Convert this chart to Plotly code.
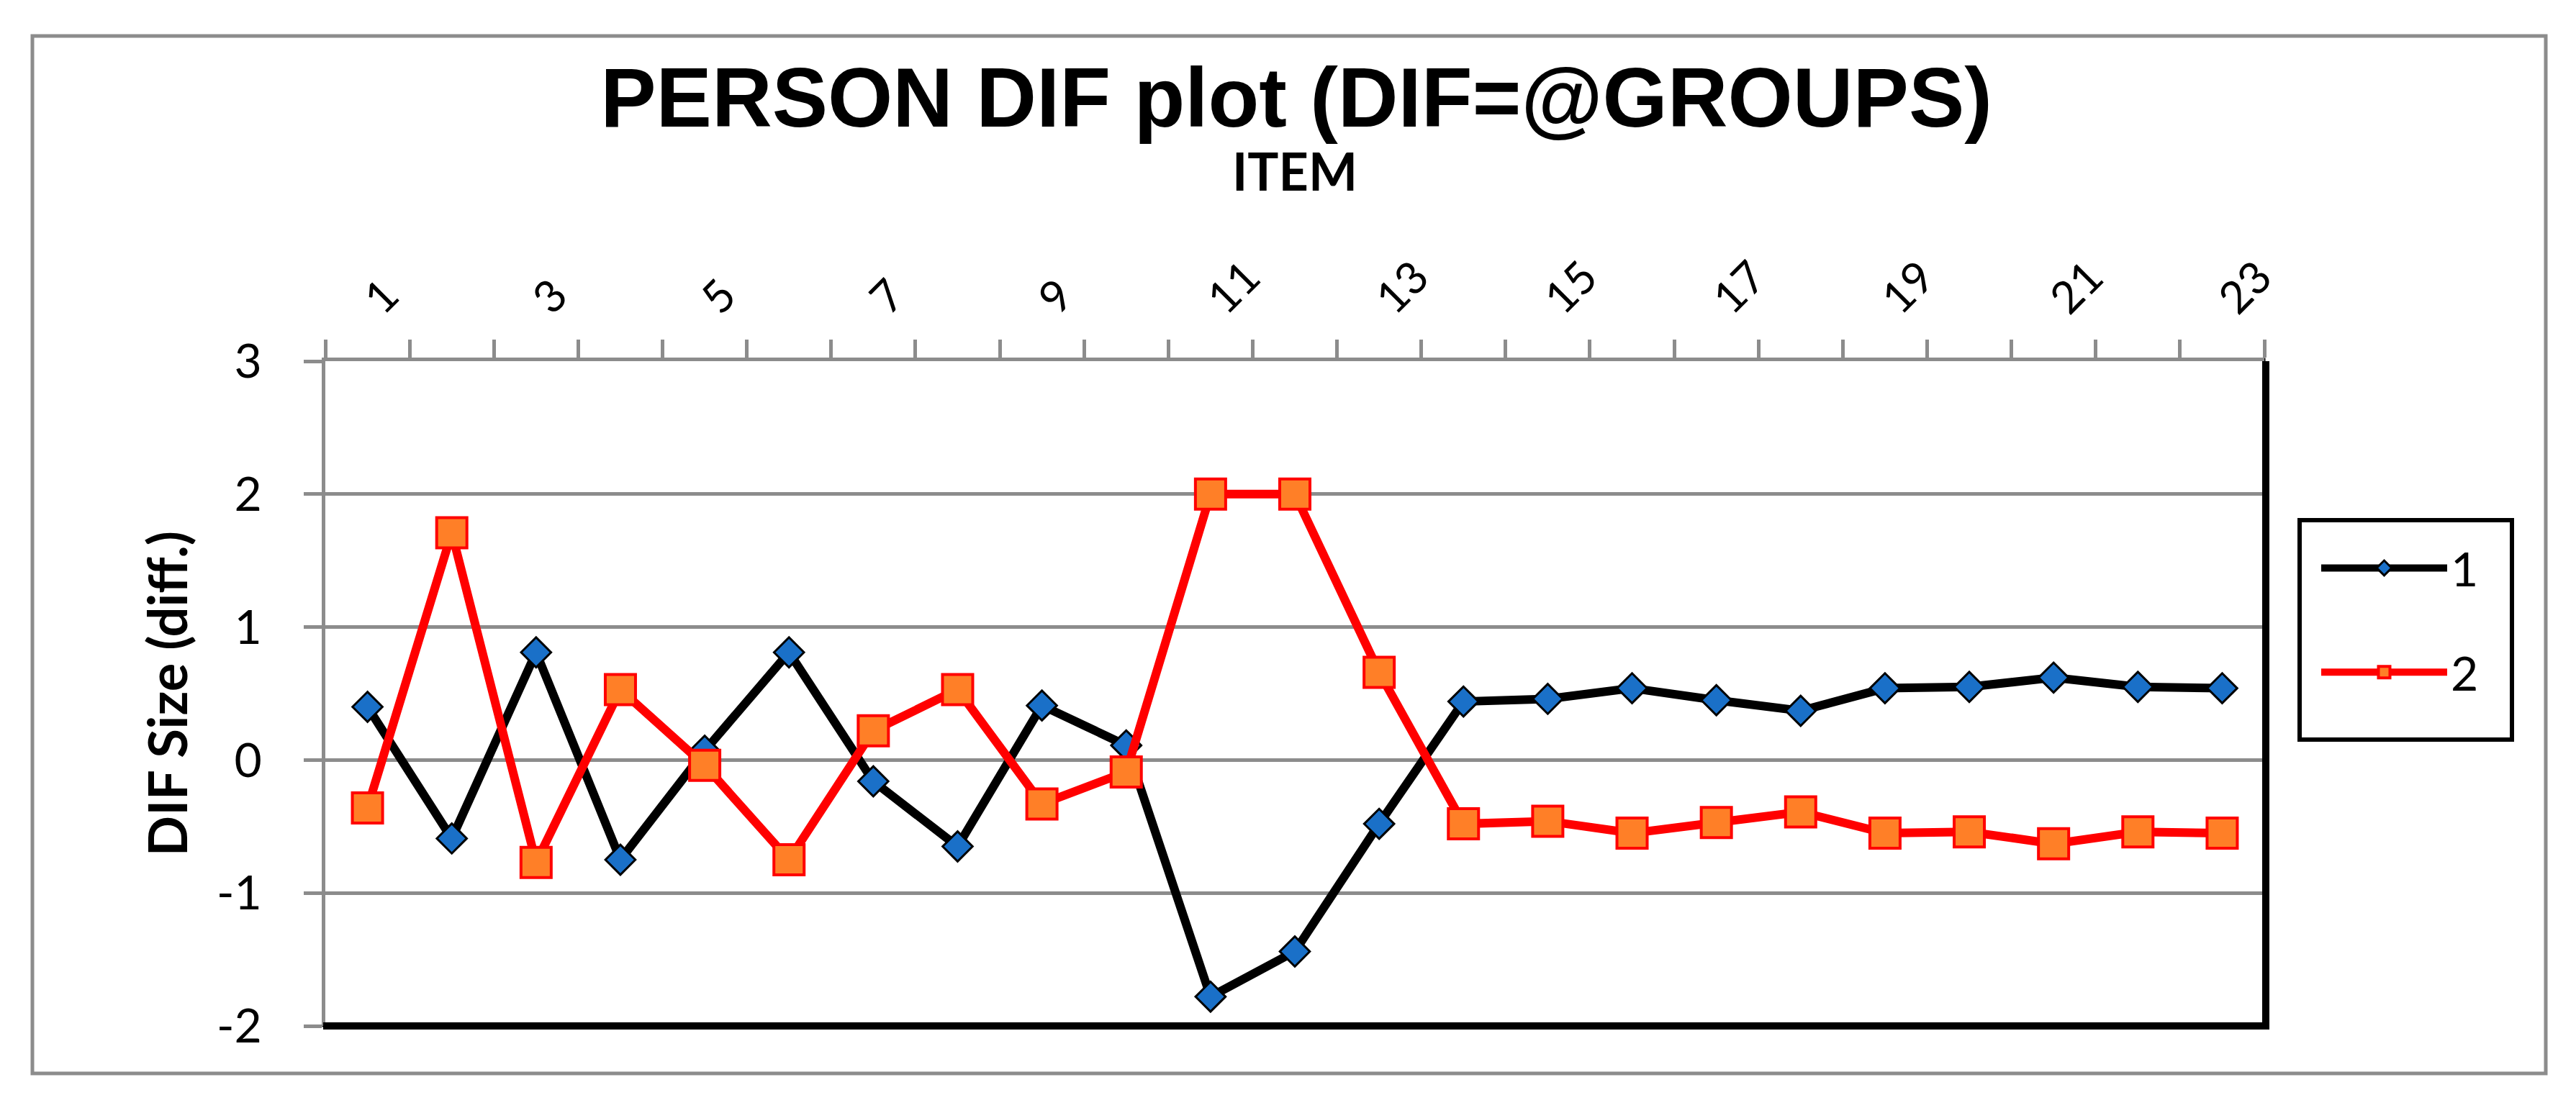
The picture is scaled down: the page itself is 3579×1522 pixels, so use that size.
import plotly.graph_objects as go

# data
items = list(range(1, 24))
group1 = [0.40, -0.59, 0.81, -0.75, 0.07, 0.81, -0.16, -0.65, 0.41, 0.11,
          -1.78, -1.44, -0.48, 0.44, 0.46, 0.54, 0.45, 0.37, 0.54, 0.55,
          0.62, 0.55, 0.54]
group2 = [-0.36, 1.71, -0.77, 0.53, -0.04, -0.75, 0.22, 0.53, -0.33, -0.09,
          2.00, 2.00, 0.66, -0.48, -0.46, -0.55, -0.47, -0.39, -0.55, -0.54,
          -0.63, -0.54, -0.55]
x_tick_vals = list(range(1, 24, 2))
x_tick_text = [str(v) for v in x_tick_vals]
x_boundaries = [i + 0.5 for i in range(0, 24)]
y_tick_vals = [-2, -1, 0, 1, 2, 3]
y_tick_text = ['-2', '-1', '0', '1', '2', '3']

# page / plot area in pixels
W, H = 3579, 1522
L, R, T, B = 444, 441, 494, 104
PW, PH = W - L - R, H - T - B

def px_x(p):
    return (p - L) / PW

def px_y(p):
    return (H - B - p) / PH

GRAY = '#8c8c8c'
BLUE = '#1a70c8'
ORANGE = '#ff7f27'

fig = go.Figure()
fig.add_trace(go.Scatter(
    x=items, y=group1, name='1', mode='lines+markers', legendgroup='1',
    line=dict(color='black', width=12),
    marker=dict(symbol='diamond', size=32, color=BLUE,
                line=dict(color='black', width=3)),
))
fig.add_trace(go.Scatter(
    x=items, y=group2, name='2', mode='lines+markers', legendgroup='2',
    line=dict(color='#ff0000', width=12),
    marker=dict(symbol='square', size=42, color=ORANGE,
                line=dict(color='#ff0000', width=4)),
))

fig.update_layout(
    width=W, height=H,
    margin=dict(l=L, r=R, t=T, b=B, autoexpand=False),
    plot_bgcolor='white',
    paper_bgcolor='white',
    title=dict(text='<b>PERSON DIF plot (DIF=@GROUPS)</b>',
               font=dict(family='Liberation Sans', size=116, color='black'),
               x=0.501, xanchor='center', y=0.916, yanchor='middle'),
    font=dict(family='Lato', color='black'),
    legend=dict(x=px_x(3212), y=px_y(732), xanchor='left', yanchor='top',
                borderwidth=0, bgcolor='rgba(0,0,0,0)',
                font=dict(family='Lato', size=66),
                traceorder='grouped', tracegroupgap=56, itemwidth=175),
    showlegend=True,
)

fig.update_xaxes(
    range=[0.5, 23.5], side='top', showgrid=False, zeroline=False,
    tickmode='array', tickvals=x_tick_vals, ticktext=x_tick_text,
    ticks='outside', ticklen=23, tickcolor='rgba(0,0,0,0)', tickangle=-45,
    tickfont=dict(family='Lato', size=62),
    minor=dict(tickmode='array', tickvals=x_boundaries, ticks='outside',
               ticklen=25, tickwidth=5, tickcolor=GRAY, showgrid=False),
    showline=True, linecolor=GRAY, linewidth=5,
    title=dict(text='<b>ITEM</b>', font=dict(family='Lato', size=72),
               standoff=58),
    automargin=False,
)
fig.update_yaxes(
    range=[-2, 3], tickmode='array', tickvals=y_tick_vals, ticktext=y_tick_text,
    showgrid=True, gridcolor=GRAY, gridwidth=5, zeroline=False,
    ticks='outside', ticklen=25, tickwidth=5, tickcolor=GRAY,
    tickfont=dict(family='Lato', size=66), ticklabelstandoff=45,
    showline=True, linecolor=GRAY, linewidth=5,
    title=dict(text='<b>DIF Size (diff.)</b>', font=dict(family='Lato', size=74),
               standoff=18),
    automargin=False,
)

# outer chart frame
fig.add_shape(type='rect', xref='paper', yref='paper',
              x0=px_x(37), x1=px_x(3529), y0=px_y(1484), y1=px_y(42),
              line=dict(color=GRAY, width=5), layer='below')
# legend frame
fig.add_shape(type='rect', xref='paper', yref='paper',
              x0=px_x(3187), x1=px_x(3482), y0=px_y(1020), y1=px_y(715),
              line=dict(color='black', width=6), layer='below')
# plot area border, heavier on the right and bottom
fig.add_shape(type='rect', xref='paper', yref='paper',
              x0=px_x(441), x1=1, y0=0, y1=px_y(491),
              line=dict(color='black', width=3), layer='below')
fig.add_shape(type='line', xref='paper', yref='paper',
              x0=px_x(L + PW + 2), x1=px_x(L + PW + 2), y0=px_y(H - B + 5), y1=1,
              line=dict(color='black', width=10), layer='above')
fig.add_shape(type='line', xref='paper', yref='paper',
              x0=px_x(L - 3), x1=px_x(L + PW + 7), y0=px_y(H - B), y1=px_y(H - B),
              line=dict(color='black', width=10), layer='above')

fig.write_html("out.html")
